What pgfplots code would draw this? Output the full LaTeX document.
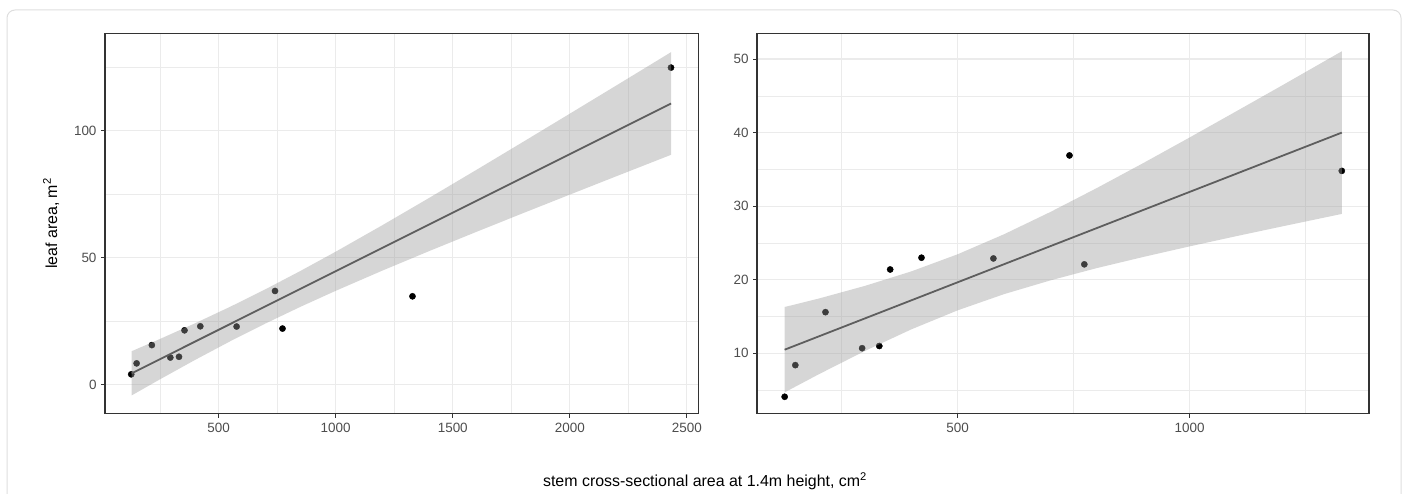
\documentclass[border=0pt]{standalone}
\usepackage{fontspec}
\setmainfont{Liberation Sans}
\usepackage{pgfplots}
\pgfplotsset{compat=1.18}
\definecolor{gridc}{HTML}{EBEBEB}
\definecolor{framec}{HTML}{333333}
\definecolor{tickc}{HTML}{4D4D4D}
\definecolor{bandc}{HTML}{999999}
\definecolor{linec}{HTML}{5E5E5E}
\definecolor{outerc}{HTML}{DEDEDE}
\pgfplotsset{
  myax/.style={
    scale only axis,
    height=380.4bp,
    anchor=south west,
    clip marker paths=true,
    grid=both,
    major grid style={color=gridc, line width=1.1bp},
    minor grid style={color=gridc, line width=0.6bp},
    axis line style={color=framec, line width=1.1bp},
    tick pos=left,
    tick align=outside,
    major tick length=4bp,
    minor tick length=0pt,
    every tick/.style={color=framec, line width=1bp},
    /pgf/number format/assume math mode=true,
    /pgf/number format/1000 sep={},
    ticklabel style={font=\fontsize{13.5}{15}\selectfont, text=tickc},
    xticklabel style={yshift=-2bp},
    yticklabel style={xshift=-1bp},
  },
  pts/.style={only marks, mark=*, mark size=3.1bp, mark options={fill=black, draw=none}},
  band/.style={fill=bandc, fill opacity=0.4, draw=none},
  fit/.style={color=linec, line width=1.8bp},
}
\begin{document}
\begin{tikzpicture}
\useasboundingbox (0,0) rectangle (1410bp,494bp);
\draw[outerc, line width=1bp, rounded corners=8bp] (7bp,-20bp) rectangle (1401bp,484bp);
% left panel
\begin{axis}[myax,
  at={(105bp,80.3bp)}, width=593.4bp,
  xmin=15, xmax=2549, ymin=-11.4, ymax=138.3,
  xtick={500,1000,1500,2000,2500},
  minor xtick={250,750,1250,1750,2250},
  ytick={0,50,100},
  minor ytick={25,75,125},
]
\addplot[pts] coordinates {
(127,4.1) (150,8.4) (215,15.6) (294,10.7) (331,11.0) (354.5,21.4)
(422,23.0) (577,22.9) (741,36.9) (773,22.1) (1328,34.8) (2432,124.8)
};
\addplot[band] coordinates {
(129,13.2) (250,18.02) (400,24.20) (550,30.70) (700,37.56) (850,44.80)
(1000,52.35) (1200,62.81) (1400,73.56) (1600,84.50) (1800,95.55)
(2000,106.68) (2200,117.85) (2432,130.87)
(2432,90.47) (2200,82.09) (2000,74.82) (1800,67.51) (1600,60.12)
(1400,52.62) (1200,44.93) (1000,36.95) (850,30.68) (700,24.08)
(550,17.12) (400,9.78) (250,2.14) (129,-4.2)
} -- cycle;
\addplot[fit] coordinates {(129,4.5) (2432,110.67)};
\end{axis}
% right panel
\begin{axis}[myax,
  at={(757bp,80.3bp)}, width=612bp,
  xmin=67.4, xmax=1386.7, ymin=1.8, ymax=53.5,
  xtick={500,1000},
  minor xtick={250,750,1250},
  ytick={10,20,30,40,50},
  minor ytick={5,15,25,35,45},
]
\addplot[pts] coordinates {
(127,4.1) (150,8.4) (215,15.6) (294,10.7) (331,11.0) (354.5,21.4)
(422,23.0) (577,22.9) (741,36.9) (773,22.1) (1328,34.8)
};
\addplot[band] coordinates {
(127,16.30) (200,17.44) (300,19.17) (400,21.14) (500,23.47) (600,26.19)
(700,29.22) (800,32.47) (900,35.86) (1000,39.34) (1100,42.88)
(1200,46.44) (1328,51.05)
(1328,28.95) (1200,27.26) (1100,25.92) (1000,24.54) (900,23.10)
(800,21.59) (700,19.92) (600,18.05) (500,15.85) (400,13.26)
(300,10.33) (200,7.14) (127,4.70)
} -- cycle;
\addplot[fit] coordinates {(127,10.5) (1328,40.0)};
\end{axis}
\node[rotate=90, anchor=base, font=\fontsize{16}{18}\selectfont] at (57bp,270.5bp) {leaf area, m\textsuperscript{2}};
\node[anchor=base, font=\fontsize{16}{18}\selectfont] at (705bp,7.3bp) {stem cross-sectional area at 1.4m height, cm\textsuperscript{2}};
\end{tikzpicture}
\end{document}
